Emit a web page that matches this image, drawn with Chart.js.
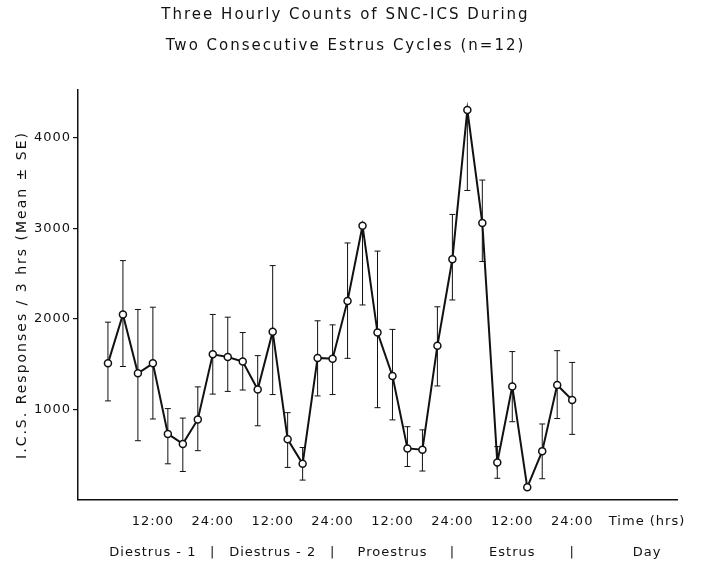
<!DOCTYPE html>
<html>
<head>
<meta charset="utf-8">
<script src="https://cdn.jsdelivr.net/npm/chart.js@4.4.1/dist/chart.umd.min.js"></script>
<style>
    html, body { margin: 0; padding: 0; background: #fff; }
</style>
</head>
<body>
<canvas id="ics_counts" width="704" height="564"></canvas>
<script>

    // hours from 00:00 of Diestrus-1, one count every 3 hours
    const hours = [3, 6, 9, 12, 15, 18, 21, 24, 27, 30, 33, 36, 39, 42, 45, 48,
                   51, 54, 57, 60, 63, 66, 69, 72, 75, 78, 81, 84, 87, 90, 93, 96];

    const mean_ics = [1510, 2050, 1400, 1510, 730, 620, 890, 1610, 1580, 1530, 1220, 1860,
                      670, 400, 1570, 1560, 2200, 3030, 1850, 1370, 570, 555, 1705, 2660,
                      4310, 3060, 415, 1255, 140, 540, 1270, 1105];

    // ends of the SE bars (null where the bar is hidden in the original)
    const se_upper = [1965, 2645, 2105, 2130, 1010, 905, 1250, 2050, 2020, 1850, 1595, 2590,
                      965, 580, 1980, 1935, 2840, null, 2750, 1885, 810, 775, 2135, 3155,
                      null, 3535, 590, 1640, null, 840, 1650, 1520];
    const se_lower = [1095, 1475, 655, 895, 400, 315, 545, 1170, 1200, 1215, 820, 1165,
                      360, 220, 1150, 1165, 1565, 2155, 1020, 885, 370, 320, 1260, 2210,
                      3420, 2635, 240, 865, null, 235, 900, 725];

    const y_ticks = [1000, 2000, 3000, 4000];

    const tick_hours = [12, 24, 36, 48, 60, 72, 84, 96, 111];
    const tick_times = ['12:00', '24:00', '12:00', '24:00', '12:00', '24:00', '12:00', '24:00', 'Time (hrs)'];
    const tick_phases = ['Diestrus - 1', '|', 'Diestrus - 2', '|', 'Proestrus', '|', 'Estrus', '|', 'Day'];

    const ink = '#111';
    const family = "'DejaVu Sans', sans-serif";

    // draws the SE bars under the line; also sets the letter spacing
    // (wide for titles, narrower for tick labels which sit on z 1)
    const errorBars = {
        id: 'errorBars',
        beforeDraw(chart) {
            chart.ctx.letterSpacing = '2px';
        },
        beforeDatasetsDraw(chart) {
            const ctx = chart.ctx;
            const xs = chart.scales.x;
            const ys = chart.scales.y;
            ctx.letterSpacing = '1px';
            ctx.save();
            ctx.strokeStyle = ink;
            ctx.lineWidth = 1;
            hours.forEach((h, i) => {
                const px = xs.getPixelForValue(h);
                const py = ys.getPixelForValue(mean_ics[i]);
                [se_upper[i], se_lower[i]].forEach(v => {
                    if (v === null) return;
                    const pv = ys.getPixelForValue(v);
                    ctx.beginPath();
                    ctx.moveTo(px, py);
                    ctx.lineTo(px, pv);
                    ctx.moveTo(px - 3, pv);
                    ctx.lineTo(px + 3, pv);
                    ctx.stroke();
                });
            });
            ctx.restore();
        }
    };

    const data_ics = {
        datasets: [{
            label: 'SNC-ICS',
            data: hours.map((h, i) => ({ x: h, y: mean_ics[i] })),
            borderColor: ink,
            borderWidth: 2,
            backgroundColor: '#fff',
            pointBackgroundColor: '#fff',
            pointBorderColor: ink,
            pointBorderWidth: 1.5,
            pointRadius: 3.5,
            tension: 0
        }]
    };

    const config_ics = {
        type: 'line',
        data: data_ics,
        options: {
            responsive: false,
            animation: false,
            layout: { padding: { top: 0, left: 14, right: 27, bottom: 0 } },
            plugins: {
                legend: { display: false },
                tooltip: { enabled: false },
                title: {
                    display: true,
                    text: ['Three Hourly Counts of SNC-ICS During', 'Two Consecutive Estrus Cycles (n=12)'],
                    color: ink,
                    font: { family: family, size: 15, weight: 'normal', lineHeight: '31px' },
                    padding: { top: 0, bottom: 28 }
                }
            },
            scales: {
                x: {
                    type: 'linear',
                    min: -3,
                    max: 117,
                    afterBuildTicks: s => { s.ticks = tick_hours.map(v => ({ value: v })); },
                    afterFit: s => { s.height = 64; },
                    grid: { display: false, drawTicks: false },
                    border: { display: true, color: ink, width: 1.5 },
                    ticks: {
                        z: 1,
                        color: ink,
                        padding: 6,
                        autoSkip: false,
                        maxRotation: 0,
                        minRotation: 0,
                        font: { family: family, size: 13, lineHeight: '31px' },
                        callback: (v, i) => [tick_times[i], tick_phases[i]]
                    }
                },
                y: {
                    min: 0,
                    max: 4530,
                    afterBuildTicks: s => { s.ticks = y_ticks.map(v => ({ value: v })); },
                    afterFit: s => { s.width = 64; },
                    grid: { display: true, drawOnChartArea: false, drawTicks: true, tickLength: 5, color: ink, lineWidth: 1.2 },
                    border: { display: true, color: ink, width: 1.5 },
                    ticks: {
                        z: 1,
                        color: ink,
                        padding: 2,
                        font: { family: family, size: 13 },
                        callback: v => String(v)
                    },
                    title: {
                        display: true,
                        text: 'I.C.S. Responses / 3 hrs (Mean ± SE)',
                        color: ink,
                        font: { family: family, size: 14 },
                        padding: { top: 0, bottom: 4 }
                    }
                }
            }
        },
        plugins: [errorBars]
    };

    const ics_chart = new Chart(
        document.getElementById('ics_counts'),
        config_ics
    );

</script>
</body>
</html>
